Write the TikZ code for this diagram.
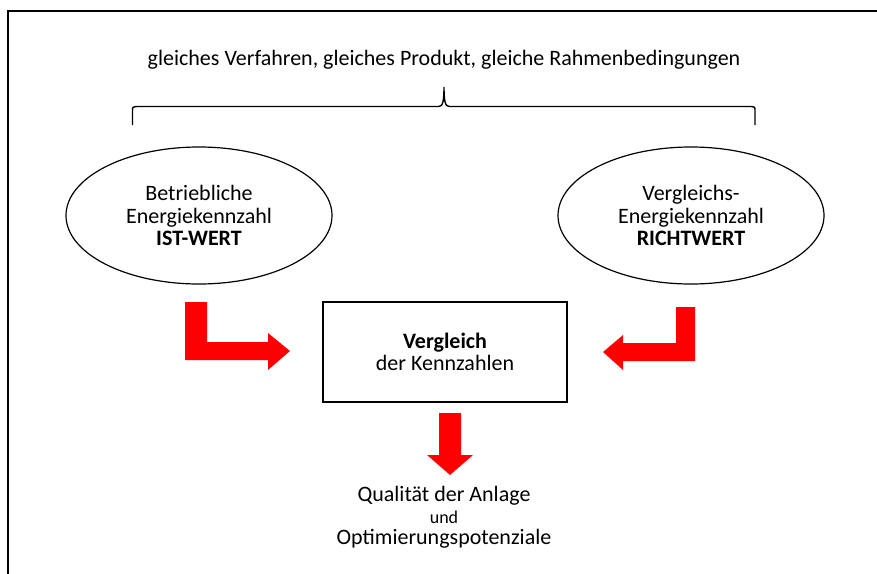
\documentclass[tikz,border=0pt]{standalone}
\usepackage{fontspec}
\setmainfont{Carlito}
\usetikzlibrary{shapes.geometric}
\begin{document}
\begin{tikzpicture}[x=0.5pt,y=-0.5pt,
  txt/.style={font=\fontsize{11}{11.25}\selectfont,align=center,inner sep=0pt},
  oval/.style={ellipse,draw,line width=0.6pt,minimum width=133pt,minimum height=68.5pt,inner sep=0pt,txt},
  kasten/.style={rectangle,draw,line width=0.8pt,minimum width=122pt,minimum height=50pt,inner sep=0pt,txt},
  pfeil/.style={fill=red,draw=none}]
%width=877px
%height=573px
\useasboundingbox (0,0) rectangle (877,573);
\clip (0,0) rectangle (877,573);
% frame
\draw[line width=1pt] (7.5,620) |- (920,11);
% coordinates
\coordinate (bA) at (132.5,125);
\coordinate (bB) at (132.5,111);
\coordinate (bC) at (137  ,106.5);
\coordinate (bD) at (439  ,106.5);
\coordinate (bM) at (444  ,87);
\coordinate (bE) at (449  ,106.5);
\coordinate (bF) at (751  ,106.5);
\coordinate (bG) at (755  ,111);
\coordinate (bH) at (755  ,125);
% nodes
\node[txt] (titel) at (444,60) {gleiches Verfahren, gleiches Produkt, gleiche Rahmenbedingungen};
\node[oval] (ist) at (199,215.5) {Betriebliche\\Energiekennzahl\\\textbf{IST-WERT}};
\node[oval] (richt) at (691,215.5) {Vergleichs-\\Energiekennzahl\\\textbf{RICHTWERT}};
\node[kasten] (vgl) at (445,352) {\textbf{Vergleich}\\der Kennzahlen};
\node[txt] (qual) at (444,496) {Qualität der Anlage};
\node[txt,font=\fontsize{9}{10}\selectfont] (und) at (444,517) {und};
\node[txt] (opt) at (444,539) {Optimierungspotenziale};
% brace
\draw[line width=0.7pt] (bA) -- (bB) .. controls (132.5,107) .. (bC) -- (bD)
  .. controls (443,106.5) and (444,100) .. (bM)
  .. controls (444,100) and (445,106.5) .. (bE) -- (bF)
  .. controls (755,107) .. (bG) -- (bH);
% red arrows
\fill[pfeil] (185,302) -- (207,302) -- (207,342) -- (268,342) -- (268,333) -- (290,351)
  -- (268,370) -- (268,360) -- (185,360) -- cycle;
\fill[pfeil] (695,307) -- (676,307) -- (676,343) -- (623,343) -- (623,335) -- (603,352)
  -- (623,370) -- (623,361) -- (695,361) -- cycle;
\fill[pfeil] (439,413) -- (461,413) -- (461,455) -- (473,455) -- (450,475) -- (427,455)
  -- (439,455) -- cycle;
\end{tikzpicture}
\end{document}
